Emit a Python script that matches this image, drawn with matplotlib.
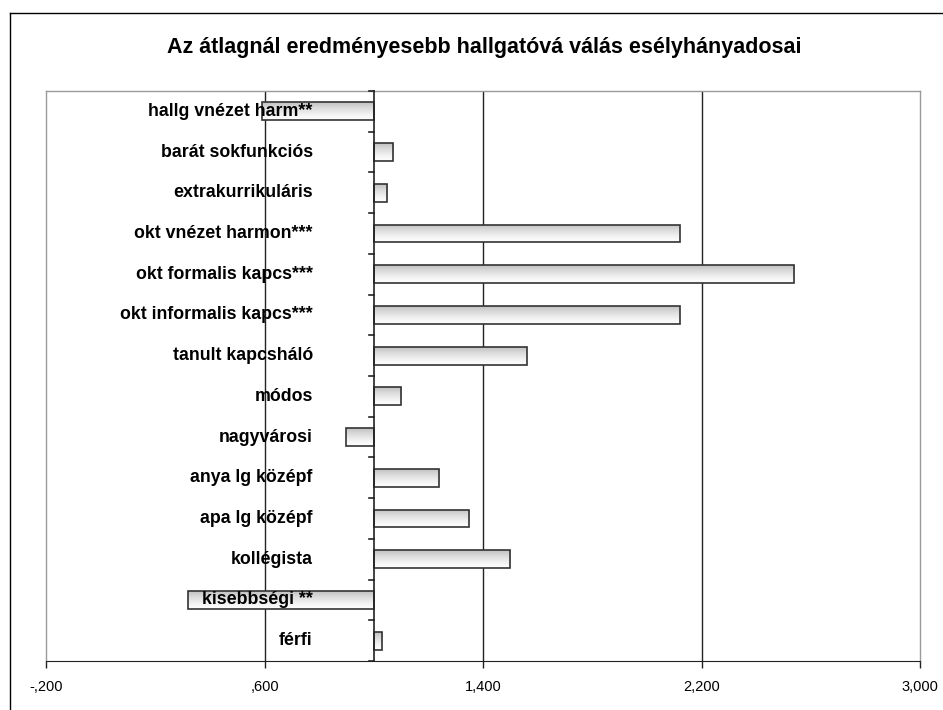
import matplotlib
matplotlib.use("Agg")
import matplotlib.pyplot as plt
from matplotlib.lines import Line2D
from matplotlib.ticker import FixedLocator, FuncFormatter
import numpy as np

plt.rcParams["font.family"] = ["Liberation Sans", "DejaVu Sans"]

title = "Az átlagnál eredményesebb hallgatóvá válás esélyhányadosai"

# top to bottom, as listed on the axis
labels = [
    "hallg vnézet harm**",
    "barát sokfunkciós",
    "extrakurrikuláris",
    "okt vnézet harmon***",
    "okt formalis kapcs***",
    "okt informalis kapcs***",
    "tanult kapcsháló",
    "módos",
    "nagyvárosi",
    "anya lg középf",
    "apa lg középf",
    "kollégista",
    "kisebbségi **",
    "férfi",
]
odds = [0.59, 1.07, 1.05, 2.12, 2.54, 2.12, 1.56, 1.10, 0.90, 1.24, 1.35, 1.50, 0.32, 1.03]

base = 1.0
xticks = [-0.2, 0.6, 1.4, 2.2, 3.0]


def hu_fmt(v, pos=None):
    s = f"{abs(v):.3f}".replace(".", ",")
    if s.startswith("0"):
        s = s[1:]
    return ("-" if v < 0 else "") + s


fig = plt.figure(figsize=(9.43, 7.10), dpi=100)
ax = fig.add_axes([46 / 943, 1 - 661 / 710, (920 - 46) / 943, (661 - 91) / 710])

# outer chart frame (runs off the right and bottom edges)
fig.add_artist(Line2D([9.5 / 943, 9.5 / 943], [0, 1 - 12.5 / 710], transform=fig.transFigure,
                      color="black", lw=1.0))
fig.add_artist(Line2D([9.5 / 943, 1], [1 - 12.5 / 710, 1 - 12.5 / 710], transform=fig.transFigure,
                      color="black", lw=1.0))

fig.text(484 / 943, 1 - 47 / 710, title, ha="center", va="center",
         fontsize=15.5, fontweight="bold")

n = len(labels)
ypos = np.arange(n)
bar_h = 0.44

grad = np.linspace(0.0, 1.0, 64).reshape(-1, 1)
for y, v in zip(ypos, odds):
    x0, x1 = min(base, v), max(base, v)
    rect = plt.Rectangle((x0, y - bar_h / 2), x1 - x0, bar_h, facecolor="none",
                         edgecolor="#333333", lw=1.2, zorder=3)
    ax.add_patch(rect)
    im = ax.imshow(grad, cmap="Greys_r", vmin=-1.8, vmax=1.0, aspect="auto",
                   extent=(x0, x1, y + bar_h / 2, y - bar_h / 2), zorder=2,
                   interpolation="bilinear")
    im.set_clip_path(rect)

ax.set_xlim(-0.2, 3.0)
ax.set_ylim(n - 0.5, -0.5)

# vertical gridlines
for xv in xticks[1:-1]:
    ax.axvline(xv, color="#222222", lw=1.0, zorder=1)

for side in ["top", "left", "right"]:
    ax.spines[side].set_color("#9a9a9a")
    ax.spines[side].set_linewidth(1.0)
ax.spines["bottom"].set_color("#222222")

# category axis crossing at 1.0
ax.plot([base, base], [-0.5, n - 0.5], color="#222222", lw=1.2, zorder=4, clip_on=False)
for b in np.arange(-0.5, n - 0.4, 1.0):
    ax.plot([base - 0.018, base], [b, b], color="#222222", lw=1.2, zorder=4, clip_on=False)
for y, lab in zip(ypos, labels):
    ax.annotate(lab, xy=(base, y), xytext=(-61, 0), textcoords="offset pixels",
                ha="right", va="center", fontsize=12.8, fontweight="bold", zorder=6)

ax.set_yticks([])
ax.xaxis.set_major_locator(FixedLocator(xticks))
ax.xaxis.set_major_formatter(FuncFormatter(hu_fmt))
ax.tick_params(axis="x", direction="out", length=5, width=1.0, color="#222222",
               labelsize=10.5, pad=9)
for lbl in ax.get_xticklabels():
    lbl.set_clip_on(False)

fig.savefig("out.png", dpi=100)
